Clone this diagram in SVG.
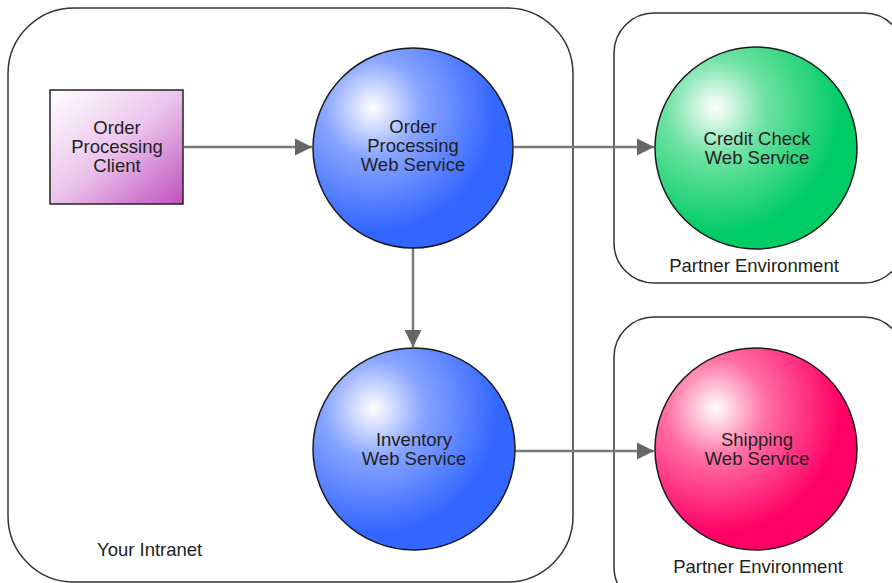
<svg xmlns="http://www.w3.org/2000/svg" width="892" height="583" viewBox="0 0 892 583">
  <style>
    .zone { fill: none; stroke: #333; stroke-width: 1.5; }
    .ball { stroke: #1a1a1a; stroke-width: 1.5; }
    .lbl { font-family: "Liberation Sans", Arial, sans-serif; font-size: 18.5px; fill: #222; text-anchor: middle; }
    .zlbl { font-family: "Liberation Sans", Arial, sans-serif; font-size: 18.5px; fill: #222; }
    .conn { stroke: #7a7a7a; stroke-width: 2.5; fill: none; marker-end: url(#arrow); }
  </style>
  <defs>
    <marker id="arrow" viewBox="0 0 10 10" refX="10" refY="5" markerWidth="7" markerHeight="7" orient="auto" markerUnits="strokeWidth">
      <path d="M0,0 L10,5 L0,10 z" fill="#666"/>
    </marker>
    <radialGradient id="gBlue" cx="0.3" cy="0.3" r="0.62" fx="0.3" fy="0.3">
      <stop offset="0" stop-color="#ffffff"/>
      <stop offset="0.4" stop-color="#87a4ff"/>
      <stop offset="1" stop-color="#3366ff"/>
    </radialGradient>
    <radialGradient id="gGreen" cx="0.3" cy="0.3" r="0.62" fx="0.3" fy="0.3">
      <stop offset="0" stop-color="#ffffff"/>
      <stop offset="0.4" stop-color="#6fe2a3"/>
      <stop offset="1" stop-color="#00cc66"/>
    </radialGradient>
    <radialGradient id="gPink" cx="0.3" cy="0.3" r="0.62" fx="0.3" fy="0.3">
      <stop offset="0" stop-color="#ffffff"/>
      <stop offset="0.4" stop-color="#ff6fa3"/>
      <stop offset="1" stop-color="#ff0066"/>
    </radialGradient>
    <linearGradient id="gPurple" x1="0" y1="0" x2="1" y2="1">
      <stop offset="0" stop-color="#ffffff"/>
      <stop offset="0.5" stop-color="#ebc4eb"/>
      <stop offset="1" stop-color="#c050c0"/>
    </linearGradient>
  </defs>

  <!-- environment boundaries -->
  <g id="intranet">
    <rect class="zone" x="8" y="8" width="565" height="574" rx="66" ry="66"/>
    <text class="zlbl" x="97" y="556">Your Intranet</text>
  </g>
  <g id="partner-credit">
    <rect class="zone" x="614" y="13" width="290" height="270" rx="40" ry="40"/>
    <text class="lbl" x="754" y="272">Partner Environment</text>
  </g>
  <g id="partner-shipping">
    <rect class="zone" x="614" y="317" width="290" height="290" rx="40" ry="40"/>
    <text class="lbl" x="758" y="573">Partner Environment</text>
  </g>

  <!-- connectors -->
  <g id="connectors">
    <line class="conn" x1="184" y1="147" x2="312" y2="147"/>
    <line class="conn" x1="514" y1="147" x2="654" y2="147"/>
    <line class="conn" x1="413" y1="248" x2="413" y2="347"/>
    <line class="conn" x1="515" y1="451" x2="654" y2="451"/>
  </g>

  <!-- nodes -->
  <g id="order-client">
    <rect x="50" y="90" width="133" height="114" fill="url(#gPurple)" stroke="#222" stroke-width="1.5"/>
    <text class="lbl" x="117" y="134">Order</text>
    <text class="lbl" x="117" y="153">Processing</text>
    <text class="lbl" x="117" y="172">Client</text>
  </g>
  <g id="order-service">
    <circle class="ball" cx="413" cy="148" r="100" fill="url(#gBlue)"/>
    <text class="lbl" x="413" y="133">Order</text>
    <text class="lbl" x="413" y="152">Processing</text>
    <text class="lbl" x="413" y="171">Web Service</text>
  </g>
  <g id="credit-service">
    <circle class="ball" cx="756" cy="148" r="101" fill="url(#gGreen)"/>
    <text class="lbl" x="757" y="145">Credit Check</text>
    <text class="lbl" x="757" y="164">Web Service</text>
  </g>
  <g id="inventory-service">
    <circle class="ball" cx="414" cy="449" r="101" fill="url(#gBlue)"/>
    <text class="lbl" x="414" y="446">Inventory</text>
    <text class="lbl" x="414" y="465">Web Service</text>
  </g>
  <g id="shipping-service">
    <circle class="ball" cx="756" cy="449" r="101" fill="url(#gPink)"/>
    <text class="lbl" x="757" y="446">Shipping</text>
    <text class="lbl" x="757" y="465">Web Service</text>
  </g>
</svg>
